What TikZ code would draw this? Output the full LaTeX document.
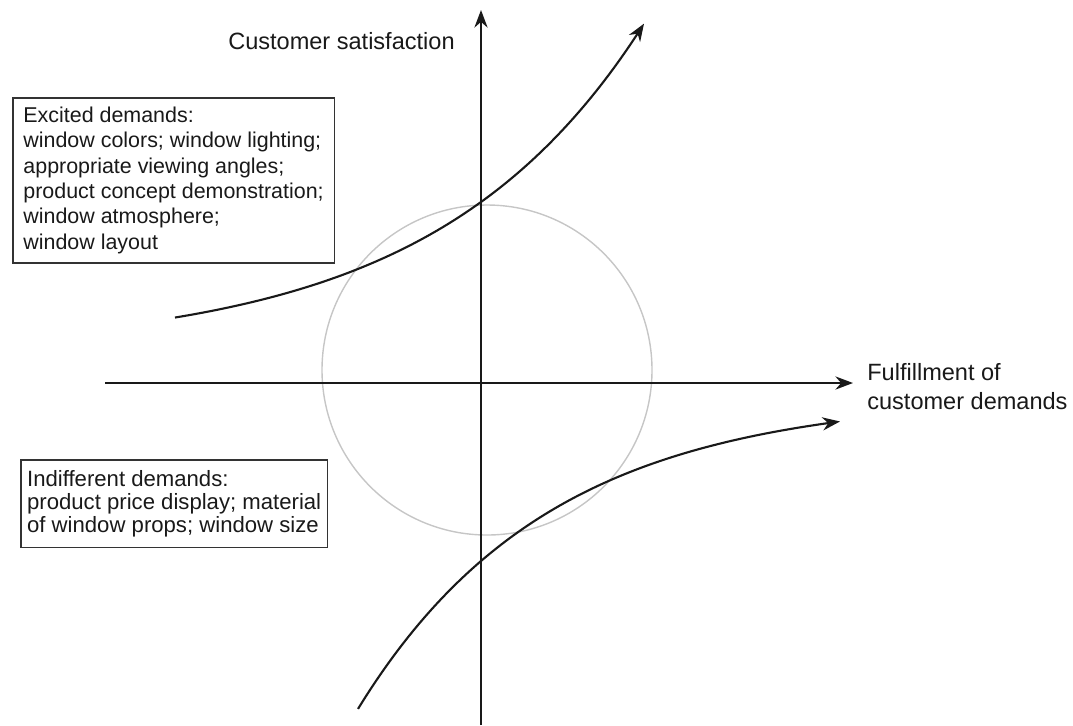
\documentclass[tikz,border=0pt]{standalone}
\usepackage{fontspec}
\setmainfont{Liberation Sans}
\usetikzlibrary{arrows.meta}

\begin{document}
\begin{tikzpicture}[x=0.02cm, y=-0.02cm,
    demandbox/.style={draw=black!80, line width=0.9pt, align=left, anchor=north west,
      font=\fontsize{12.2}{14.4}\selectfont, text=black!90},
    axislabel/.style={inner sep=0pt, font=\fontsize{13.4}{16.4}\selectfont, text=black!90},
    axis/.style={line width=1.2pt, black!90, -{Stealth[length=10pt,width=7.5pt]}},
    curve/.style={line width=1.2pt, black!90, smooth, samples=80}]
  \useasboundingbox (0,0) rectangle (1073,725);

  % axes
  \coordinate (xlo) at (105,383);
  \coordinate (xhi) at (853,383);
  \coordinate (ylo) at (481,725);
  \coordinate (yhi) at (481,10);
  \draw[gray!45, line width=0.8pt] (487,370) circle[radius=165];
  \draw[axis] (xlo) -- (xhi);
  \draw[axis] (ylo) -- (yhi);

  \node[axislabel, anchor=base east] (ylabel) at (455,49) {Customer satisfaction};
  \node[axislabel, anchor=north west, align=left] (xlabel) at (867,363) {Fulfillment of\\customer demands};

  % excited and indifferent curves
  \draw[curve, -{Stealth[length=10pt,width=7.5pt]}] plot[domain=175:644] (\x, {352-150*exp(0.0048*(\x-481))});
  \draw[curve, -{Stealth[length=10pt,width=7.5pt]}] plot[domain=358:840] (\x, {396+165*exp(-0.0052*(\x-481))});

  \node[demandbox, minimum width=183pt, minimum height=94pt] (excited) at (12,97)
    {Excited demands:\\window colors; window lighting;\\appropriate viewing angles;\\product concept demonstration;\\window atmosphere;\\window layout};
  \node[demandbox, font=\fontsize{12.6}{13.2}\selectfont, minimum width=174.6pt, minimum height=50pt] (indifferent) at (20,459)
    {Indifferent demands:\\product price display; material\\of window props; window size};
\end{tikzpicture}
\end{document}
